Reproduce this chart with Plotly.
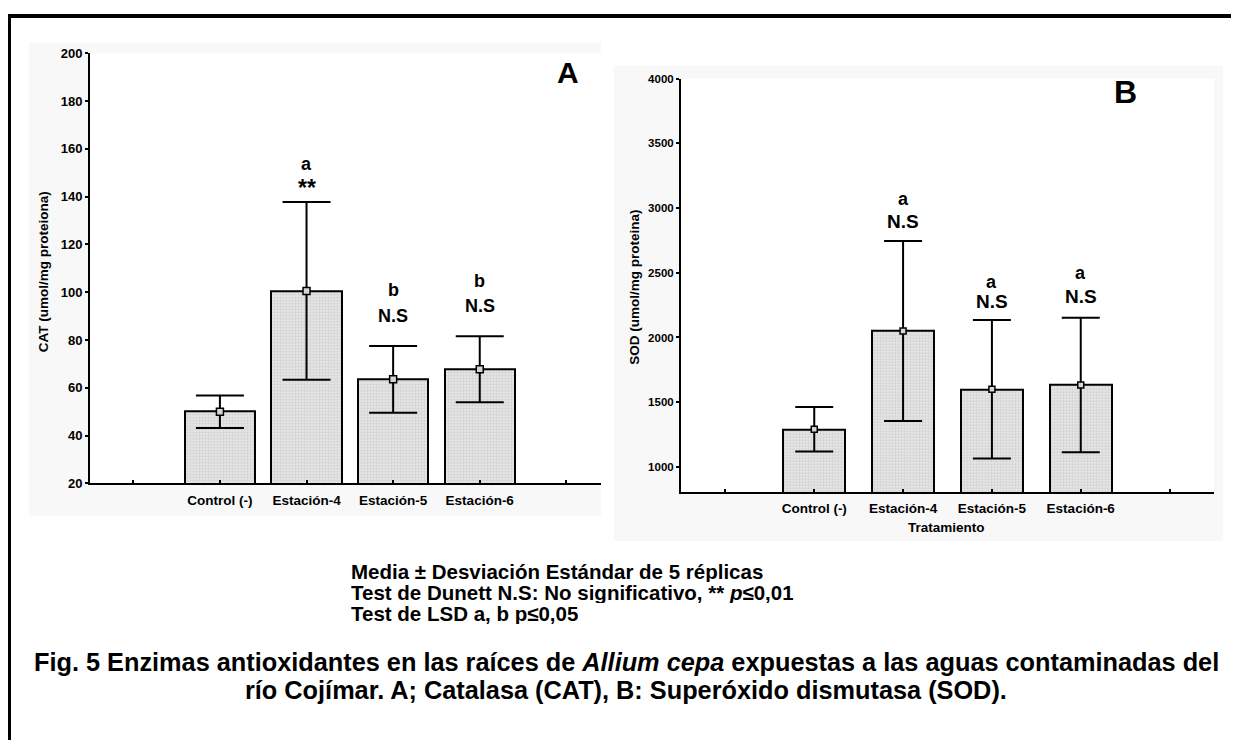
import plotly.graph_objects as go

# ---------------- data ----------------
categories = ["Control (-)", "Estación-4", "Estación-5", "Estación-6"]
positions = [1, 2, 3, 4]

cat_mean = [50.0, 100.5, 63.5, 67.7]
cat_sd = [6.8, 37.2, 14.0, 13.8]
cat_letters = ["", "a", "b", "b"]
cat_dunnett = ["", "**", "N.S", "N.S"]
cat_letter_y = [None, 153.7, 100.7, 104.5]
cat_dunnett_y = [None, 143.5, 90.1, 94.2]

sod_mean = [1290, 2050, 1600, 1633]
sod_sd = [172, 696, 536, 520]
sod_letters = ["", "a", "a", "a"]
sod_dunnett = ["", "N.S", "N.S", "N.S"]
sod_letter_y = [None, 3070, 2426, 2497]
sod_dunnett_y = [None, 2899, 2277, 2315]

cat_ticks = [20, 40, 60, 80, 100, 120, 140, 160, 180, 200]
sod_ticks = [1000, 1500, 2000, 2500, 3000, 3500, 4000]

notes = [
    "Media ± Desviación Estándar de 5 réplicas",
    "Test de Dunett N.S: No significativo, ** <i>p</i>≤0,01",
    "Test de LSD a, b p≤0,05",
]
caption = [
    "Fig. 5 Enzimas antioxidantes en las raíces de <i>Allium cepa</i> expuestas a las aguas contaminadas del",
    "río Cojímar. A; Catalasa (CAT), B: Superóxido dismutasa (SOD).",
]

# ---------------- layout constants ----------------
W, H = 1239, 740
OFF = 8  # page body margin: screen coordinate = paper coordinate + 8
FONT = "Liberation Sans, Arial, sans-serif"


def px(x):
    return (x - OFF) / W


def py(y):
    return 1 - (y - OFF) / H


bar_pattern = dict(shape=".", fgcolor="#b8b8b8", bgcolor="#ececec", size=3, solidity=0.55)

fig = go.Figure()

# Panel A bars
fig.add_trace(go.Bar(
    x=positions, y=cat_mean, width=0.81, base=0,
    marker=dict(color="#e4e4e4", pattern=bar_pattern, line=dict(color="black", width=2)),
    error_y=dict(type="data", array=cat_sd, visible=True, color="black", thickness=2, width=24),
    xaxis="x", yaxis="y", showlegend=False,
))
fig.add_trace(go.Scatter(
    x=positions, y=cat_mean, mode="markers",
    marker=dict(symbol="square", size=7, color="#d6d6d6", line=dict(color="black", width=1.5)),
    xaxis="x", yaxis="y", showlegend=False,
))

# Panel B bars
fig.add_trace(go.Bar(
    x=positions, y=sod_mean, width=0.70, base=0,
    marker=dict(color="#e4e4e4", pattern=bar_pattern, line=dict(color="black", width=2)),
    error_y=dict(type="data", array=sod_sd, visible=True, color="black", thickness=2, width=19),
    xaxis="x2", yaxis="y2", showlegend=False,
))
fig.add_trace(go.Scatter(
    x=positions, y=sod_mean, mode="markers",
    marker=dict(symbol="square", size=6, color="#d6d6d6", line=dict(color="black", width=1.5)),
    xaxis="x2", yaxis="y2", showlegend=False,
))

tickfont_x = dict(family=FONT, size=13.5, color="black", weight="bold")

common_x = dict(
    tickmode="array", tickvals=[0] + positions + [5], ticktext=[""] + categories + [""],
    showline=True, linecolor="black", linewidth=2, ticks="inside", ticklen=3,
    tickcolor="black", tickwidth=1.5, showgrid=False, zeroline=False,
    tickfont=tickfont_x, fixedrange=True, ticklabelstandoff=3,
)
common_y = dict(
    showline=True, linecolor="black", linewidth=2, ticks="outside", ticklen=3,
    tickcolor="black", tickwidth=1.5, showgrid=False, zeroline=False, fixedrange=True,
)

shapes = []
# panel backgrounds (light grey) with white plot area
shapes.append(dict(type="rect", xref="paper", yref="paper", x0=px(29), x1=px(601), y0=py(519), y1=py(36),
                   fillcolor="#f8f8f8", line=dict(width=0), layer="below"))
shapes.append(dict(type="rect", xref="paper", yref="paper", x0=px(614), x1=px(1223), y0=py(545), y1=py(60),
                   fillcolor="#f8f8f8", line=dict(width=0), layer="below"))
shapes.append(dict(type="rect", xref="paper", yref="paper", x0=px(90), x1=px(601), y0=py(486), y1=py(47),
                   fillcolor="white", line=dict(width=0), layer="below"))
shapes.append(dict(type="rect", xref="paper", yref="paper", x0=px(681), x1=px(1214), y0=py(495), y1=py(73),
                   fillcolor="white", line=dict(width=0), layer="below"))
# outer frame: top and left edges (the rest lies outside the window)
shapes.append(dict(type="line", xref="paper", yref="paper", x0=0, x1=1, y0=1 - 1 / H, y1=1 - 1 / H,
                   line=dict(color="black", width=4)))
shapes.append(dict(type="line", xref="paper", yref="paper", x0=1 / W, x1=1 / W, y0=0, y1=1,
                   line=dict(color="black", width=4)))

annotations = []
bold = dict(family=FONT, color="black", weight="bold")


def ann(**kw):
    base = dict(showarrow=False, xanchor="center", yanchor="middle")
    base.update(kw)
    annotations.append(base)


for i, p in enumerate(positions):
    if cat_letters[i]:
        ann(x=p, y=cat_letter_y[i], xref="x", yref="y", text=cat_letters[i], font=dict(size=18, **bold))
        dsize = 23 if cat_dunnett[i] == "**" else 18
        ann(x=p, y=cat_dunnett_y[i], xref="x", yref="y", text=cat_dunnett[i], font=dict(size=dsize, **bold))
    if sod_letters[i]:
        ann(x=p, y=sod_letter_y[i], xref="x2", yref="y2", text=sod_letters[i], font=dict(size=18, **bold))
        ann(x=p, y=sod_dunnett_y[i], xref="x2", yref="y2", text=sod_dunnett[i], font=dict(size=19, **bold))

# panel labels
ann(x=px(568), y=py(67), xref="paper", yref="paper", text="A", font=dict(size=30, **bold))
ann(x=px(1125), y=py(87), xref="paper", yref="paper", text="B", font=dict(size=32, **bold))
# axis titles
ann(x=px(43.5), y=py(270), xref="paper", yref="paper", text="CAT (umol/mg proteiona)",
    textangle=-90, font=dict(size=13.5, **bold))
ann(x=px(634.5), y=py(286), xref="paper", yref="paper", text="SOD (umol/mg proteina)",
    textangle=-90, font=dict(size=13.5, **bold))
ann(x=px(946), y=py(531), xref="paper", yref="paper", text="Tratamiento", font=dict(size=13.5, **bold))

# notes block (tightly spaced lines as in the original)
for line, yy in zip(notes, [576, 597.5, 619]):
    ann(x=px(350), y=py(yy), xref="paper", yref="paper", text=line, xanchor="left",
        height=21, borderpad=0, valign="middle", font=dict(size=20.5, **bold))
# caption
for line, yy in zip(caption, [668, 697]):
    ann(x=px(626), y=py(yy), xref="paper", yref="paper", text=line, font=dict(size=25.3, **bold))

fig.update_layout(
    width=W, height=H, autosize=False,
    margin=dict(l=0, r=0, t=0, b=0, pad=0),
    paper_bgcolor="white", plot_bgcolor="rgba(0,0,0,0)",
    font=dict(family=FONT, color="black"),
    bargap=0,
    xaxis=dict(domain=[px(90), px(601)], range=[-0.5, 5.4], anchor="y", **common_x),
    yaxis=dict(domain=[py(486), py(47)], range=[20, 200], anchor="x", tickvals=cat_ticks,
               tickfont=dict(family=FONT, size=13, color="black", weight="bold"), **common_y),
    xaxis2=dict(domain=[px(681), px(1214)], range=[-0.5, 5.5], anchor="y2", **common_x),
    yaxis2=dict(domain=[py(495), py(73)], range=[805, 4000], anchor="x2", tickvals=sod_ticks,
                tickfont=dict(family=FONT, size=11.5, color="black", weight="bold"), **common_y),
    shapes=shapes,
    annotations=annotations,
)

fig.write_html("out.html")
